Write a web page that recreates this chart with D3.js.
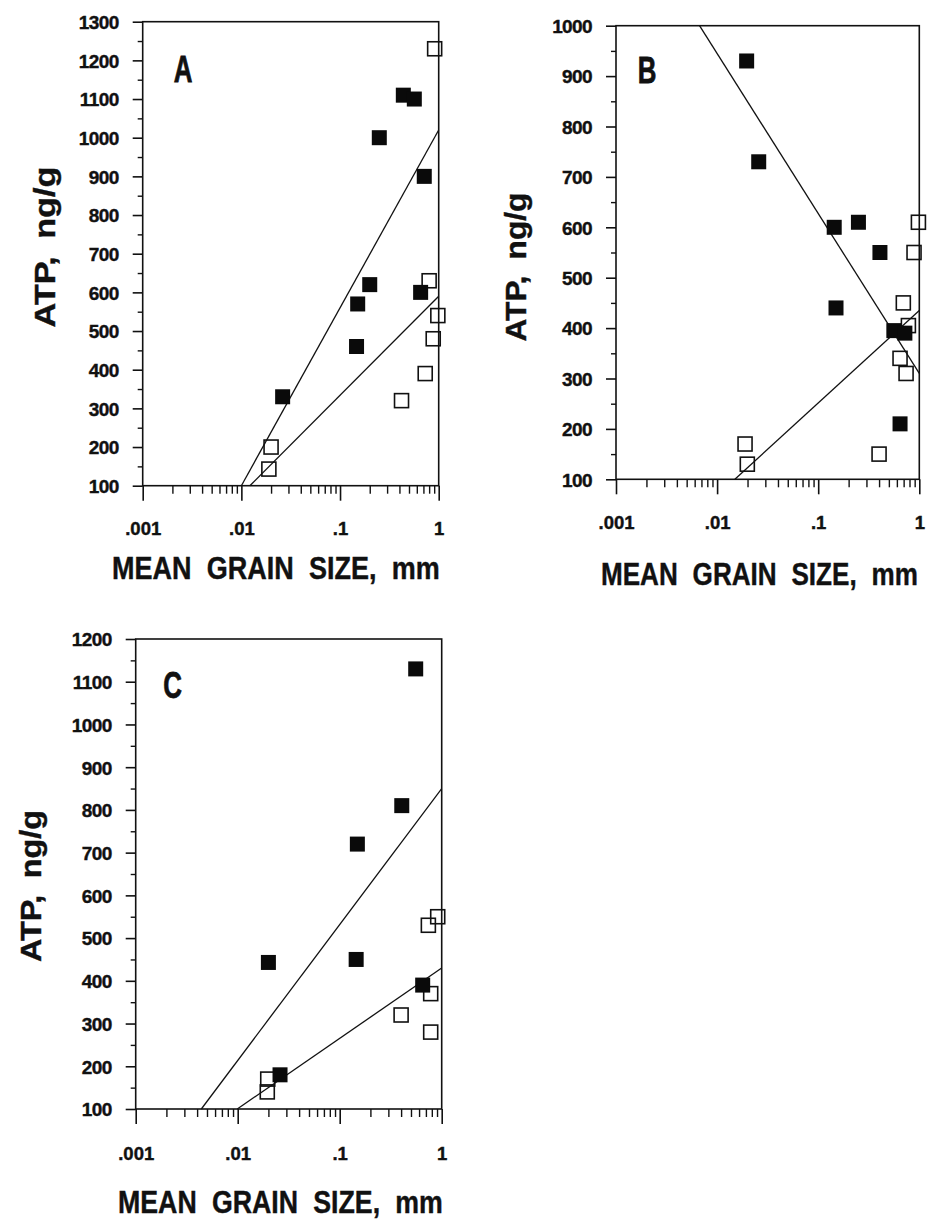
<!DOCTYPE html>
<html>
<head>
<meta charset="utf-8">
<script src="https://cdn.jsdelivr.net/npm/d3@7"></script>
<style>
  html, body { margin: 0; padding: 0; background: #fff; }
  svg { display: block; }
  text { font-family: "Liberation Sans", Arial, Helvetica, sans-serif; font-weight: bold; fill: #111; }
</style>
</head>
<body>
<svg id="chart" width="932" height="1226"></svg>
<script>
// ---------- data ----------
const xTickValues = [0.001, 0.01, 0.1, 1];
const xTickLabels = [".001", ".01", ".1", "1"];
const yTicksA = [100, 200, 300, 400, 500, 600, 700, 800, 900, 1000, 1100, 1200, 1300];
const yTicksB = [100, 200, 300, 400, 500, 600, 700, 800, 900, 1000];
const yTicksC = [100, 200, 300, 400, 500, 600, 700, 800, 900, 1000, 1100, 1200];

// [grain size mm, ATP ng/g]
const filledA = [[0.438, 1110], [0.566, 1100], [0.25, 1000], [0.714, 900], [0.20, 620], [0.151, 570], [0.656, 600], [0.147, 460], [0.0262, 330]];
const openA = [[0.91, 1230], [0.80, 630], [0.98, 540], [0.88, 480], [0.73, 390], [0.42, 320], [0.020, 200], [0.019, 143]];
const fitA = [[[0.01, 100], [1, 1020]], [[0.0122, 100], [1, 590]]];

const filledB = [[0.0196, 930], [0.0258, 730], [0.144, 600], [0.25, 610], [0.408, 550], [0.15, 440], [0.56, 395], [0.72, 390], [0.645, 210]];
const openB = [[0.98, 610], [0.887, 550], [0.695, 450], [0.78, 405], [0.645, 340], [0.74, 310], [0.40, 150], [0.0189, 170], [0.0199, 130]];
const fitB = [[[0.0067, 1000], [1, 310]], [[0.015, 100], [1, 435]]];

const filledC = [[0.556, 1130], [0.406, 810], [0.149, 720], [0.020, 443], [0.145, 450], [0.651, 390], [0.026, 180]];
const openC = [[0.914, 550], [0.74, 530], [0.78, 370], [0.40, 320], [0.78, 280], [0.0197, 170], [0.0195, 140]];
const fitC = [[[0.0044, 100], [1, 850]], [[0.0099, 100], [1, 430]]];

const panelLabels = ["A", "B", "C"];
const xTitle = "MEAN GRAIN SIZE, mm";
const yTitle = "ATP, ng/g";

// ---------- layout ----------
const panels = [
  { label: panelLabels[0], yTicks: yTicksA, filled: filledA, open: openA, fits: fitA,
    left: 142.7, right: 438.7, top: 21.7, bottom: 485.7,
    labelX: 183, labelY: 82,
    yt: { x: 55, cy: 247, len: 161 },
    xt: { x0: 112, x1: 440, base: 579 },
    xLabBase: 535 },
  { label: panelLabels[1], yTicks: yTicksB, filled: filledB, open: openB, fits: fitB,
    left: 616, right: 919.3, top: 25.7, bottom: 479.3,
    labelX: 647, labelY: 83,
    yt: { x: 526, cy: 267, len: 149 },
    xt: { x0: 601, x1: 918, base: 585 },
    xLabBase: 529.5 },
  { label: panelLabels[2], yTicks: yTicksC, filled: filledC, open: openC, fits: fitC,
    left: 135.7, right: 441.7, top: 639, bottom: 1109,
    labelX: 172.5, labelY: 698,
    yt: { x: 41, cy: 886, len: 152 },
    xt: { x0: 118, x1: 443, base: 1213 },
    xLabBase: 1160 }
];

const svg = d3.select("#chart");

panels.forEach(p => {
  const yMin = d3.min(p.yTicks), yMax = d3.max(p.yTicks);
  const x = d3.scaleLog().domain([0.001, 1]).range([p.left, p.right]);
  const y = d3.scaleLinear().domain([yMin, yMax]).range([p.bottom, p.top]);
  const g = svg.append("g");

  // minor x ticks
  const minorX = [];
  [0.001, 0.01, 0.1].forEach(d => { for (let k = 2; k <= 9; k++) minorX.push(d * k); });
  g.append("g").attr("transform", `translate(0,${p.bottom})`)
    .call(d3.axisBottom(x).tickValues(minorX).tickSize(8).tickFormat(""))
    .call(s => s.select(".domain").remove())
    .selectAll("line").attr("stroke", "#111").attr("stroke-width", 1.4);

  // major x ticks
  const xa = g.append("g").attr("transform", `translate(0,${p.bottom})`)
    .call(d3.axisBottom(x).tickValues(xTickValues).tickSize(15)
      .tickFormat((d, i) => xTickLabels[i]))
    .call(s => s.select(".domain").remove());
  xa.selectAll("line").attr("stroke", "#111").attr("stroke-width", 1.6);
  xa.selectAll("text").attr("y", p.xLabBase - p.bottom).attr("dy", null)
    .style("font-size", "18.5px").attr("fill", "#111")
    .attr("stroke", "#111").attr("stroke-width", 0.4);

  // minor y ticks
  const minorY = p.yTicks.slice(0, -1).map(v => v + 50);
  g.append("g").attr("transform", `translate(${p.left},0)`)
    .call(d3.axisLeft(y).tickValues(minorY).tickSize(5).tickFormat(""))
    .call(s => s.select(".domain").remove())
    .selectAll("line").attr("stroke", "#111").attr("stroke-width", 1.4);

  // major y ticks
  const ya = g.append("g").attr("transform", `translate(${p.left},0)`)
    .call(d3.axisLeft(y).tickValues(p.yTicks).tickSize(10).tickPadding(14).tickFormat(d3.format("d")))
    .call(s => s.select(".domain").remove());
  ya.selectAll("line").attr("stroke", "#111").attr("stroke-width", 1.6);
  ya.selectAll("text").attr("dy", "0.36em").style("font-size", "19px").style("letter-spacing", "-0.6px")
    .attr("fill", "#111").attr("stroke", "#111").attr("stroke-width", 0.4);

  // frame
  g.append("rect")
    .attr("x", p.left).attr("y", p.top)
    .attr("width", p.right - p.left).attr("height", p.bottom - p.top)
    .attr("fill", "none").attr("stroke", "#111").attr("stroke-width", 1.6);

  // fit lines
  const line = d3.line().x(d => x(d[0])).y(d => y(d[1]));
  g.selectAll("path.fit").data(p.fits).join("path").attr("class", "fit")
    .attr("d", line).attr("fill", "none").attr("stroke", "#111").attr("stroke-width", 1.3);

  // open squares
  const so = 14;
  g.selectAll("rect.open").data(p.open).join("rect").attr("class", "open")
    .attr("x", d => x(d[0]) - so / 2).attr("y", d => y(d[1]) - so / 2)
    .attr("width", so).attr("height", so)
    .attr("fill", "none").attr("stroke", "#111").attr("stroke-width", 1.6);

  // filled squares
  const sf = 15;
  g.selectAll("rect.filled").data(p.filled).join("rect").attr("class", "filled")
    .attr("x", d => x(d[0]) - sf / 2).attr("y", d => y(d[1]) - sf / 2)
    .attr("width", sf).attr("height", sf)
    .attr("fill", "#0a0a0a");

  // panel letter
  g.append("text")
    .attr("transform", `translate(${p.labelX},${p.labelY}) scale(0.7,1)`)
    .attr("text-anchor", "middle")
    .style("font-size", "37px")
    .attr("stroke", "#111").attr("stroke-width", 0.8)
    .text(p.label);

  // y title (scaled along its length to match the reference width)
  const yt = g.append("text")
    .attr("text-anchor", "middle")
    .style("font-size", "30px")
    .style("word-spacing", "7px")
    .attr("stroke", "#111").attr("stroke-width", 0.4)
    .text(yTitle);
  const ytw = yt.node().getComputedTextLength();
  yt.attr("transform", `translate(${p.yt.x},${p.yt.cy}) rotate(-90) scale(${p.yt.len / ytw},1)`);

  // x title (scaled to the reference width)
  const xt = g.append("text")
    .style("font-size", "31px")
    .style("word-spacing", "9px")
    .attr("stroke", "#111").attr("stroke-width", 0.4)
    .text(xTitle);
  const xtw = xt.node().getComputedTextLength();
  xt.attr("transform", `translate(${p.xt.x0},${p.xt.base}) scale(${(p.xt.x1 - p.xt.x0) / xtw},1)`);
});
</script>
</body>
</html>
